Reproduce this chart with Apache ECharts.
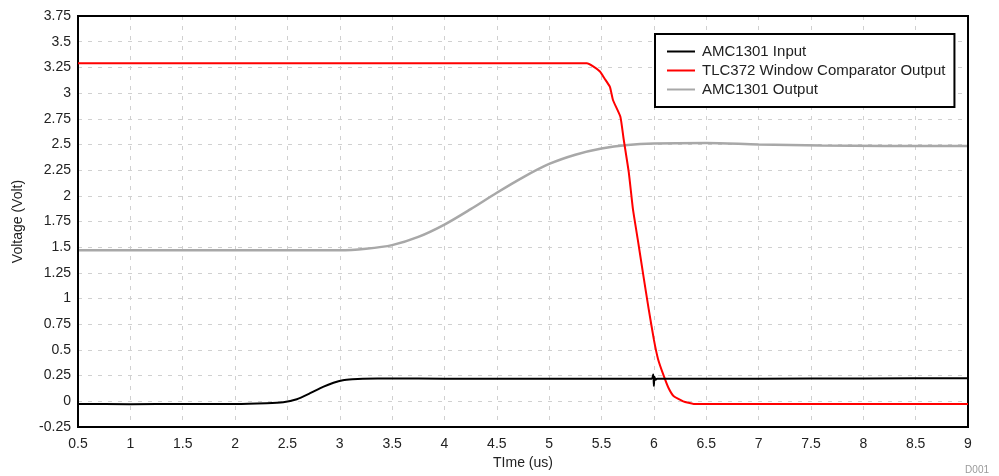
<!DOCTYPE html>
<html>
<head>
<meta charset="utf-8">
<script src="https://cdn.jsdelivr.net/npm/echarts@6/dist/echarts.min.js"></script>
<style>html,body{margin:0;padding:0;background:#fff;}#c{width:999px;height:476px;}</style>
</head>
<body>
<div id="c"></div>
<script>
const xTicks = [0.5, 1, 1.5, 2, 2.5, 3, 3.5, 4, 4.5, 5, 5.5, 6, 6.5, 7, 7.5, 8, 8.5, 9];
const yTicks = [-0.25, 0, 0.25, 0.5, 0.75, 1, 1.25, 1.5, 1.75, 2, 2.25, 2.5, 2.75, 3, 3.25, 3.5, 3.75];

const inputT = [0.5, 1.0, 1.5, 2.0, 2.3, 2.46, 2.59, 2.71, 2.84, 2.94, 3.03, 3.12, 3.22, 3.5, 4.0, 5.0, 5.98, 5.995, 6.0, 6.005, 6.015, 6.03, 7.0, 8.0, 9.0];
const inputV = [-0.025, -0.028, -0.025, -0.027, -0.02, -0.01, 0.02, 0.075, 0.14, 0.18, 0.205, 0.215, 0.22, 0.222, 0.22, 0.22, 0.22, 0.26, 0.15, 0.24, 0.21, 0.22, 0.22, 0.222, 0.225];

const compT = [0.5, 5.0, 5.36, 5.42, 5.485, 5.53, 5.58, 5.61, 5.68, 5.71, 5.76, 5.80, 5.85, 5.90, 5.95, 6.00, 6.04, 6.09, 6.14, 6.19, 6.28, 6.38, 7, 8, 9];
const compV = [3.29, 3.29, 3.29, 3.26, 3.21, 3.14, 3.06, 2.93, 2.77, 2.56, 2.23, 1.87, 1.55, 1.22, 0.90, 0.60, 0.41, 0.26, 0.13, 0.05, 0.0, -0.025, -0.025, -0.025, -0.025];

const outT = [0.5, 2.0, 2.62, 3.0, 3.25, 3.5, 3.75, 4.0, 4.25, 4.5, 4.75, 5.0, 5.25, 5.5, 5.75, 6.0, 6.5, 7.0, 7.6, 8.2, 9.0];
const outV = [1.47, 1.47, 1.47, 1.47, 1.485, 1.52, 1.60, 1.72, 1.87, 2.03, 2.18, 2.31, 2.40, 2.46, 2.495, 2.51, 2.515, 2.50, 2.49, 2.485, 2.485];

const names = ['AMC1301 Input', 'TLC372 Window Comparator Output', 'AMC1301 Output'];

function pairs(t, v) { return t.map((x, i) => [x, v[i]]); }

const chart = echarts.init(document.getElementById('c'), null, {renderer: 'canvas'});
const fontFam = '"Liberation Sans", Arial, sans-serif';
const split = {show: true, showMinLine: false, showMaxLine: false, lineStyle: {color: '#d0d0d0', type: [4, 6], width: 1}};
chart.setOption({
  animation: false,
  backgroundColor: '#fff',
  grid: {left: 78, right: 31, top: 16, bottom: 49, show: true, borderColor: '#000', borderWidth: 2, backgroundColor: 'transparent', z: 3},
  xAxis: {
    type: 'value', min: 0.5, max: 9, interval: 0.5,
    name: 'TIme (us)', nameLocation: 'middle', nameGap: 29,
    nameTextStyle: {fontFamily: fontFam, fontSize: 14, color: '#222'},
    axisLine: {show: false, onZero: false}, axisTick: {show: false},
    axisLabel: {fontFamily: fontFam, fontSize: 14, color: '#222', margin: 10,
      formatter: v => (xTicks.indexOf(v) >= 0 ? String(v) : '')},
    splitLine: split
  },
  yAxis: {
    type: 'value', min: -0.25, max: 3.75, interval: 0.25,
    name: 'Voltage (Volt)', nameLocation: 'middle', nameGap: 53,
    nameTextStyle: {fontFamily: fontFam, fontSize: 14, color: '#222'},
    axisLine: {show: false, onZero: false}, axisTick: {show: false},
    axisLabel: {fontFamily: fontFam, fontSize: 14, color: '#222', margin: 7,
      formatter: v => (yTicks.indexOf(v) >= 0 ? String(v) : '')},
    splitLine: split
  },
  legend: {
    orient: 'vertical', left: 655, top: 34,
    backgroundColor: '#fff', borderColor: '#000', borderWidth: 2,
    padding: [10, 9, 10, 12], itemGap: 4, itemWidth: 28, itemHeight: 2,
    icon: 'rect',
    textStyle: {fontFamily: fontFam, fontSize: 15, color: '#222', padding: [0, 0, 0, 2]},
    data: names
  },
  series: [
    {name: names[2], type: 'line', data: pairs(outT, outV), showSymbol: false, smooth: 0.3,
      lineStyle: {color: '#a8a8a8', width: 2.5}, itemStyle: {color: '#a8a8a8'}, z: 2},
    {name: names[1], type: 'line', data: pairs(compT, compV), showSymbol: false, smooth: 0.15,
      lineStyle: {color: '#ff0000', width: 2}, itemStyle: {color: '#ff0000'}, z: 3},
    {name: names[0], type: 'line', data: pairs(inputT, inputV), showSymbol: false, smooth: 0.15,
      lineStyle: {color: '#000', width: 2}, itemStyle: {color: '#000'}, z: 4}
  ],
  graphic: [{type: 'text', right: 10, bottom: 1,
    style: {text: 'D001', fill: '#9a9a9a', font: '10px "Liberation Sans", Arial, sans-serif'}}]
});
</script>
</body>
</html>
